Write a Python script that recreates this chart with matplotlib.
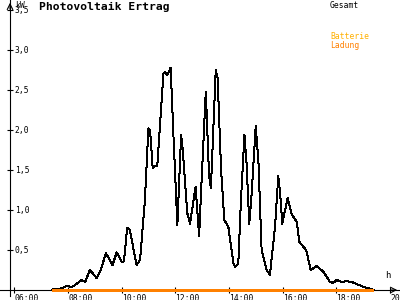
import matplotlib
matplotlib.use("Agg")
import matplotlib.pyplot as plt

# Gesamt (kW) over the day, hours as decimal
gesamt_t = [7.40, 7.43, 7.76, 7.95, 8.13, 8.25, 8.50, 8.63, 8.81, 9.06, 9.19,
            9.41, 9.65, 9.81, 10.00, 10.08, 10.20, 10.30, 10.55, 10.68, 10.86,
            10.99, 11.05, 11.08, 11.15, 11.20, 11.32, 11.42, 11.55, 11.61,
            11.67, 11.73, 11.82, 11.92, 12.07, 12.21, 12.27, 12.44, 12.54,
            12.75, 12.88, 12.98, 13.13, 13.25, 13.32, 13.50, 13.57, 13.70,
            13.82, 13.97, 14.16, 14.22, 14.34, 14.44, 14.57, 14.65, 14.75,
            14.84, 14.99, 15.09, 15.21, 15.40, 15.52, 15.71, 15.83, 15.90,
            15.98, 16.18, 16.33, 16.52, 16.62, 16.87, 17.04, 17.26, 17.51,
            17.76, 17.88, 18.01, 18.20, 18.38, 18.57, 18.75, 19.00, 19.31,
            19.40]
gesamt_kw = [0.00, 0.01, 0.02, 0.05, 0.04, 0.06, 0.125, 0.10, 0.25, 0.15, 0.23,
             0.46, 0.31, 0.47, 0.35, 0.36, 0.78, 0.75, 0.31, 0.375, 1.12,
             2.02, 2.00, 1.88, 1.52, 1.55, 1.55, 2.04, 2.71, 2.72,
             2.69, 2.71, 2.78, 1.96, 0.81, 1.94, 1.75, 0.96, 0.83,
             1.29, 0.67, 1.42, 2.48, 1.44, 1.27, 2.75, 2.65, 1.50,
             0.875, 0.79, 0.33, 0.29, 0.33, 1.12, 1.94, 1.58, 0.83,
             1.21, 2.05, 1.62, 0.50, 0.25, 0.19, 0.79, 1.42, 1.21,
             0.83, 1.15, 0.95, 0.85, 0.60, 0.50, 0.25, 0.30, 0.23,
             0.10, 0.09, 0.125, 0.10, 0.11, 0.10, 0.075, 0.04, 0.01,
             0.00]

# Batterie Ladung (kW)
ladung_t = [7.43, 19.33]
ladung_kw = [0.0, 0.0]

x_ticks = [6, 8, 10, 12, 14, 16, 18, 20]
x_labels = ["06:00", "08:00", "10:00", "12:00", "14:00", "16:00", "18:00", "20:00"]
y_ticks = [0.5, 1.0, 1.5, 2.0, 2.5, 3.0, 3.5]
y_labels = ["0,5", "1,0", "1,5", "2,0", "2,5", "3,0", "3,5"]

black = "#000000"
orange = "#FF8000"
amber = "#FFB000"
mono = "DejaVu Sans Mono"

fig = plt.figure(figsize=(4, 3), dpi=100)
ax = fig.add_axes([0, 0, 1, 1])
ax.set_xlim(5.4596, 20.368)
ax.set_ylim(-0.125, 3.625)

ax.plot(gesamt_t, gesamt_kw, color=black, lw=0.72, antialiased=False, zorder=3)
ax.plot(ladung_t, ladung_kw, color=orange, lw=1.0, antialiased=False, zorder=4)

# axes through the origin of the drawing
for s in ["top", "right"]:
    ax.spines[s].set_visible(False)
ax.spines["bottom"].set_position(("data", 0))
ax.spines["left"].set_position(("data", 5.832))
ax.spines["left"].set_bounds(-0.075, 3.625)
ax.spines["bottom"].set_linewidth(0.8)
ax.spines["left"].set_linewidth(0.8)

ax.set_xticks(x_ticks)
ax.set_xticklabels(x_labels, fontsize=5.8, family=mono)
ax.tick_params(axis="x", direction="inout", length=5, width=0.8, pad=0.3)
for lab in ax.get_xticklabels():
    lab.set_ha("left")

ax.set_yticks(y_ticks)
ax.set_yticklabels(y_labels, fontsize=5.8, family=mono)
ax.tick_params(axis="y", direction="inout", length=5, width=0.8, pad=-6.0)
for lab in ax.get_yticklabels():
    lab.set_ha("left")

# arrow heads
ax.annotate("", xy=(1.0, 0.0333), xytext=(0.97, 0.0333), xycoords="axes fraction",
            arrowprops=dict(arrowstyle="->", color=black, lw=0.8))
ax.annotate("", xy=(0.025, 1.0), xytext=(0.025, 0.96), xycoords="axes fraction",
            arrowprops=dict(arrowstyle="->", color=black, lw=0.8))

ax.text(0.038, 0.995, "kW", transform=ax.transAxes, fontsize=5.8, family=mono,
        ha="left", va="top")
ax.text(0.963, 0.083, "h", transform=ax.transAxes, fontsize=6.5, family=mono,
        ha="left", va="center")

ax.text(0.098, 0.993, "Photovoltaik Ertrag", transform=ax.transAxes,
        fontsize=8.2, family=mono, weight="bold", ha="left", va="top")

ax.text(0.825, 0.995, "Gesamt", transform=ax.transAxes, fontsize=5.8,
        family=mono, color=black, ha="left", va="top")
ax.text(0.825, 0.892, "Batterie", transform=ax.transAxes, fontsize=5.8,
        family=mono, color=amber, ha="left", va="top")
ax.text(0.825, 0.865, "Ladung", transform=ax.transAxes, fontsize=5.8,
        family=mono, color=orange, ha="left", va="top")

fig.savefig("out.png", dpi=100)
